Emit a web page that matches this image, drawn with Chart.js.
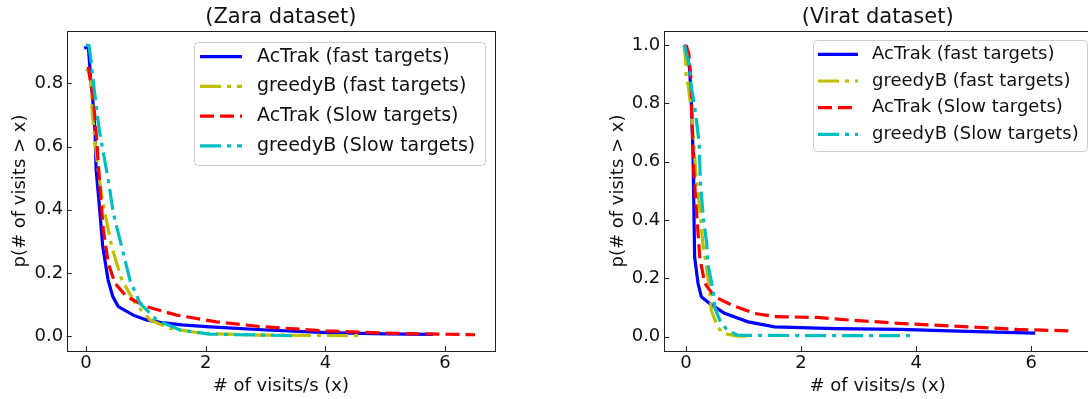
<!DOCTYPE html>
<html>
<head>
<meta charset="utf-8">
<script src="https://cdn.jsdelivr.net/npm/chart.js@4.4.1/dist/chart.umd.min.js"></script>
<style>
    html, body { margin: 0; padding: 0; background: #fff; overflow: hidden; width: 1088px; height: 399px; }
    canvas { position: absolute; top: 0; }
    #zara { left: 0; }
    #virat { left: 560px; }
</style>
</head>
<body>
<canvas id="zara" width="542" height="399"></canvas>
<canvas id="virat" width="551" height="399"></canvas>
<script>
// --- tick labels ---
const xTicks = [0, 2, 4, 6];
const zaraYTicks = [0.0, 0.2, 0.4, 0.6, 0.8];
const viratYTicks = [0.0, 0.2, 0.4, 0.6, 0.8, 1.0];

const seriesNames = ['AcTrak (fast targets)', 'greedyB (fast targets)', 'AcTrak (Slow targets)', 'greedyB (Slow targets)'];

// --- Zara dataset ---
const zaraActrakFastX = [-0.03, 0.04, 0.08, 0.11, 0.15, 0.17, 0.22, 0.28, 0.37, 0.45, 0.54, 0.79, 1.01, 1.24, 1.6, 2.07, 3.02, 4.02, 5.0, 5.8];
const zaraActrakFastY = [0.911, 0.916, 0.811, 0.758, 0.652, 0.526, 0.42, 0.283, 0.177, 0.124, 0.093, 0.066, 0.051, 0.043, 0.035, 0.029, 0.019, 0.011, 0.007, 0.005];
const zaraGreedyFastX = [0.0, 0.04, 0.078, 0.106, 0.15, 0.19, 0.25, 0.317, 0.43, 0.6, 0.82, 1.07, 1.40, 1.96, 2.9, 4.55];
const zaraGreedyFastY = [0.847, 0.84, 0.81, 0.705, 0.62, 0.547, 0.46, 0.389, 0.283, 0.177, 0.104, 0.051, 0.024, 0.008, 0.003, 0.001];
const zaraActrakSlowX = [0.04, 0.08, 0.12, 0.167, 0.206, 0.245, 0.29, 0.373, 0.485, 0.68, 1.01, 1.515, 2.18, 2.9, 4.02, 5.13, 6.5];
const zaraActrakSlowY = [0.853, 0.80, 0.758, 0.652, 0.547, 0.441, 0.336, 0.23, 0.167, 0.124, 0.093, 0.066, 0.045, 0.030, 0.016, 0.0085, 0.004];
const zaraGreedySlowX = [0.0, 0.05, 0.08, 0.12, 0.17, 0.223, 0.30, 0.373, 0.457, 0.596, 0.735, 0.9, 1.18, 1.57, 2.07, 3.5];
const zaraGreedySlowY = [0.921, 0.92, 0.88, 0.81, 0.73, 0.652, 0.57, 0.494, 0.389, 0.283, 0.177, 0.104, 0.051, 0.019, 0.006, 0.001];

// --- Virat dataset ---
const viratActrakFastX = [-0.035, 0.0, 0.064, 0.093, 0.122, 0.133, 0.15, 0.209, 0.267, 0.41, 0.67, 1.08, 1.54, 1.98, 2.6, 3.72, 4.88, 6.07];
const viratActrakFastY = [1.0, 0.99, 0.917, 0.80, 0.631, 0.494, 0.274, 0.183, 0.137, 0.114, 0.080, 0.051, 0.034, 0.031, 0.028, 0.025, 0.018, 0.012];
const viratGreedyFastX = [-0.03, 0.0, 0.0, 0.04, 0.09, 0.122, 0.18, 0.23, 0.296, 0.35, 0.41, 0.44, 0.55, 0.64, 0.87, 1.12];
const viratGreedyFastY = [1.0, 0.93, 0.89, 0.86, 0.78, 0.69, 0.544, 0.455, 0.314, 0.25, 0.16, 0.09, 0.034, 0.012, 0.003, 0.001];
const viratActrakSlowX = [0.0, 0.05, 0.087, 0.104, 0.133, 0.197, 0.238, 0.325, 0.5, 0.79, 1.19, 1.54, 2.27, 2.85, 3.7, 4.9, 5.75, 6.66];
const viratActrakSlowY = [1.0, 0.97, 0.88, 0.745, 0.574, 0.389, 0.274, 0.183, 0.137, 0.109, 0.080, 0.069, 0.066, 0.057, 0.046, 0.034, 0.025, 0.02];
const viratGreedySlowX = [-0.03, 0.06, 0.09, 0.15, 0.18, 0.23, 0.25, 0.3, 0.36, 0.38, 0.47, 0.5, 0.6, 0.73, 0.9, 2.0, 3.92];
const viratGreedySlowY = [1.0, 0.93, 0.86, 0.79, 0.745, 0.66, 0.53, 0.41, 0.32, 0.25, 0.16, 0.10, 0.05, 0.02, 0.005, 0.004, 0.004];

Chart.defaults.font.family = 'DejaVu Sans';
Chart.defaults.color = '#111';

// line styles like matplotlib 'b-', 'y-.', 'r--', 'c-.'
const lineStyles = [
    { color: '#0000ff', dash: [] },
    { color: '#bfbf00', dash: [21, 6, 4, 6] },
    { color: '#ff0000', dash: [14, 6] },
    { color: '#00bfbf', dash: [21, 6, 4, 6] }
];

const toPoints = (xs, ys) => xs.map((x, i) => ({ x: x, y: ys[i] }));

// frame around the plot + inward tick marks
const frameTicks = {
    id: 'frameTicks',
    afterDatasetsDraw(chart) {
        const { ctx, chartArea: a, scales } = chart;
        ctx.save();
        ctx.strokeStyle = '#222';
        ctx.lineWidth = 1;
        ctx.setLineDash([]);
        ctx.strokeRect(Math.round(a.left) + 0.5, Math.round(a.top) + 0.5, Math.round(a.right - a.left), Math.round(a.bottom - a.top));
        ctx.beginPath();
        scales.x.ticks.forEach(t => {
            const px = Math.round(scales.x.getPixelForValue(t.value)) + 0.5;
            ctx.moveTo(px, a.bottom);
            ctx.lineTo(px, a.bottom - 5);
        });
        scales.y.ticks.forEach(t => {
            const py = Math.round(scales.y.getPixelForValue(t.value)) + 0.5;
            ctx.moveTo(a.left, py);
            ctx.lineTo(a.left + 5, py);
        });
        ctx.stroke();
        ctx.restore();
    }
};

// legend drawn inside the plot (upper right)
const insideLegend = {
    id: 'insideLegend',
    afterDraw(chart, args, opts) {
        const ctx = chart.ctx;
        ctx.save();
        ctx.beginPath();
        ctx.roundRect(opts.left + 0.5, opts.top + 0.5, opts.width, opts.height, 4);
        ctx.fillStyle = 'rgba(255,255,255,0.8)';
        ctx.fill();
        ctx.strokeStyle = '#cccccc';
        ctx.lineWidth = 1;
        ctx.stroke();
        ctx.font = opts.fontSize + 'px "DejaVu Sans"';
        ctx.textBaseline = 'middle';
        ctx.textAlign = 'left';
        chart.data.datasets.forEach((ds, i) => {
            const y = opts.rowY + i * opts.rowGap;
            ctx.beginPath();
            ctx.setLineDash(ds.borderDash);
            ctx.lineCap = 'butt';
            ctx.lineWidth = ds.borderWidth;
            ctx.strokeStyle = ds.borderColor;
            ctx.moveTo(opts.lineX0, y);
            ctx.lineTo(opts.lineX1, y);
            ctx.stroke();
            ctx.setLineDash([]);
            ctx.fillStyle = '#111';
            ctx.fillText(ds.label, opts.textX, y);
        });
        ctx.restore();
    }
};

function makeChart(id, cfg) {
    const datasets = cfg.series.map((s, i) => ({
        label: seriesNames[i],
        data: toPoints(s[0], s[1]),
        showLine: true,
        borderColor: lineStyles[i].color,
        borderDash: lineStyles[i].dash,
        borderWidth: 3.2,
        pointRadius: 0,
        fill: false,
        tension: 0,
        order: 3 - i
    }));

    return new Chart(document.getElementById(id), {
        type: 'scatter',
        data: { datasets: datasets },
        plugins: [frameTicks, insideLegend],
        options: {
            responsive: false,
            animation: false,
            devicePixelRatio: 1,
            layout: { padding: cfg.padding },
            plugins: {
                legend: { display: false },
                tooltip: { enabled: false },
                title: {
                    display: true,
                    text: cfg.title,
                    fullSize: false,
                    color: '#111',
                    font: { size: 21, weight: 'normal' },
                    padding: { top: 5.4, bottom: 0.4 }
                },
                insideLegend: cfg.legend
            },
            scales: {
                x: {
                    type: 'linear',
                    min: cfg.xMin,
                    max: cfg.xMax,
                    afterFit: s => { s.height = 48; },
                    afterBuildTicks: s => { s.ticks = xTicks.map(v => ({ value: v })); },
                    grid: { display: false, drawTicks: false },
                    border: { display: false },
                    ticks: { font: { size: 18 }, padding: 2, maxRotation: 0, autoSkip: false, callback: v => String(v) },
                    title: { display: true, text: '# of visits/s (x)', font: { size: 18 }, padding: { top: 0, bottom: 2.2 } }
                },
                y: {
                    type: 'linear',
                    min: cfg.yMin,
                    max: cfg.yMax,
                    afterFit: s => { s.width = cfg.yWidth; },
                    afterBuildTicks: s => { s.ticks = cfg.yTicks.map(v => ({ value: v })); },
                    grid: { display: false, drawTicks: false },
                    border: { display: false },
                    ticks: { font: { size: 18 }, padding: cfg.yTickPad, autoSkip: false, callback: v => v.toFixed(1) },
                    title: { display: true, text: 'p(# of visits > x)', font: { size: 18 }, padding: { top: cfg.yTitlePad, bottom: 0 } }
                }
            }
        }
    });
}

makeChart('zara', {
    title: '(Zara dataset)',
    series: [
        [zaraActrakFastX, zaraActrakFastY],
        [zaraGreedyFastX, zaraGreedyFastY],
        [zaraActrakSlowX, zaraActrakSlowY],
        [zaraGreedySlowX, zaraGreedySlowY]
    ],
    xMin: -0.322, xMax: 6.834,
    yMin: -0.0475, yMax: 0.966,
    yTicks: zaraYTicks,
    padding: { left: 0, right: 47, top: 0, bottom: 0 },
    yWidth: 66.7, yTickPad: 3.5, yTitlePad: 9.2,
    legend: { left: 194, top: 42, width: 291, height: 123, lineX0: 200, lineX1: 242, textX: 257, rowY: 56.7, rowGap: 29.7, fontSize: 19 }
});

makeChart('virat', {
    title: '(Virat dataset)',
    series: [
        [viratActrakFastX, viratActrakFastY],
        [viratGreedyFastX, viratGreedyFastY],
        [viratActrakSlowX, viratActrakSlowY],
        [viratGreedySlowX, viratGreedySlowY]
    ],
    xMin: -0.377, xMax: 7.04,
    yMin: -0.049, yMax: 1.048,
    yTicks: viratYTicks,
    padding: { left: 48, right: 20, top: 0, bottom: 0 },
    yWidth: 56.3, yTickPad: 4, yTitlePad: 0,
    legend: { left: 253, top: 40, width: 274, height: 111, lineX0: 258, lineX1: 298, textX: 312, rowY: 54.3, rowGap: 26.7, fontSize: 18 }
});
</script>
</body>
</html>
